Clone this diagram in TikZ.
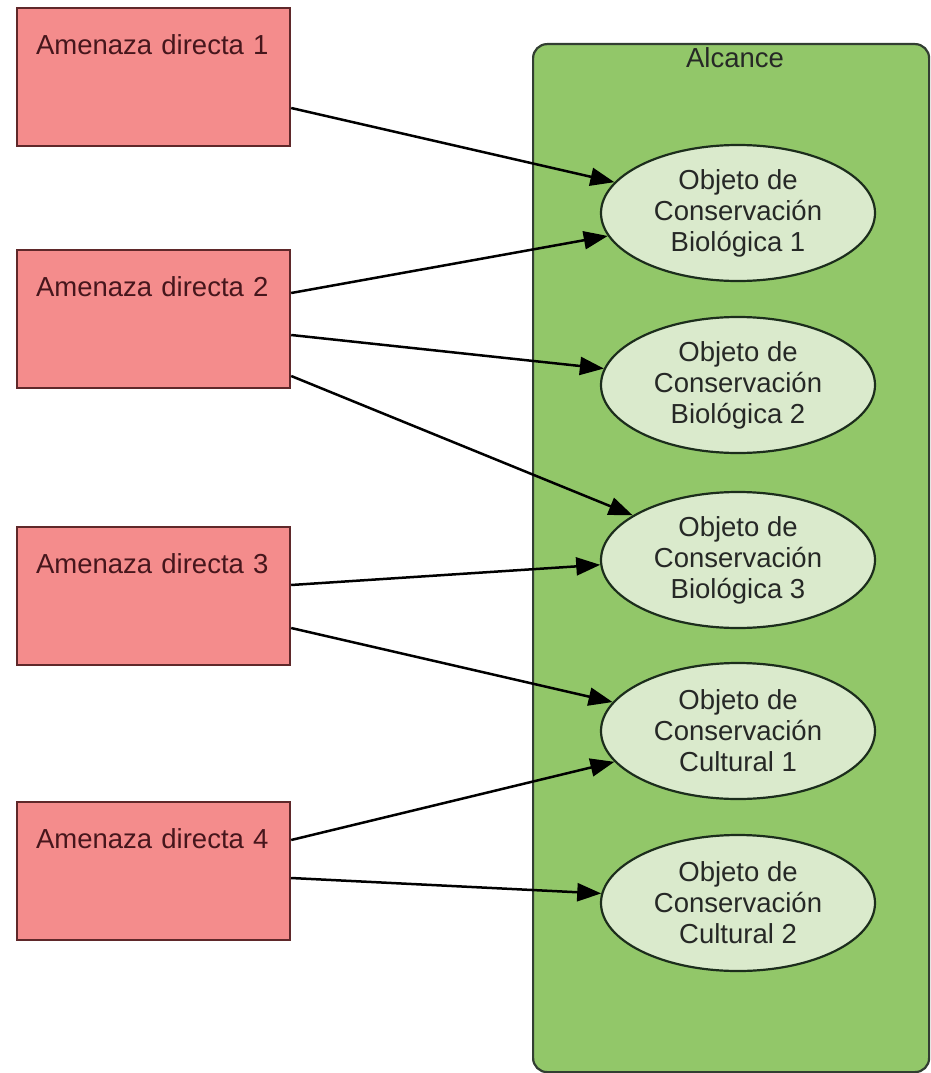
\documentclass[tikz,border=0pt]{standalone}
\usepackage{fontspec}
\setmainfont{Liberation Sans}
\usetikzlibrary{arrows.meta,shapes.geometric}
\definecolor{redfill}{RGB}{244,140,140}
\definecolor{redborder}{RGB}{95,40,42}
\definecolor{redtext}{RGB}{70,22,28}
\definecolor{greenfill}{RGB}{146,199,105}
\definecolor{greenborder}{RGB}{50,62,50}
\definecolor{ellfill}{RGB}{218,234,204}
\definecolor{ellborder}{RGB}{28,45,28}
\definecolor{elltext}{RGB}{38,40,38}
\tikzset{
  threat/.style={draw=redborder, fill=redfill, line width=2.2pt, rectangle,
    anchor=north west, inner xsep=19pt, inner ysep=0pt, text width=235pt,
    align=left, text height=46pt, text depth=92pt, text=redtext,
    font=\fontsize{27.5}{31}\selectfont},
  container/.style={draw=greenborder, fill=greenfill, line width=2.2pt,
    rounded corners=14pt, rectangle, anchor=north west, inner sep=0pt,
    minimum width=396pt, minimum height=1028pt},
  title/.style={text=elltext, font=\fontsize{27.5}{31}\selectfont, inner sep=0pt},
  obj/.style={ellipse, draw=ellborder, fill=ellfill, line width=2.2pt,
    minimum width=274pt, minimum height=136pt, inner sep=0pt, align=center,
    text=elltext, font=\fontsize{27.5}{31}\selectfont},
  link/.style={draw=black, line width=2.5pt, -{Triangle[length=24pt,width=18pt]}},
}
\begin{document}
\begin{tikzpicture}[x=1pt,y=-1pt]
\useasboundingbox (0,0) rectangle (930,1073);
% container
\node[container] (alc) at (532,43) {};
\node[title] (alct) at (735,58) {Alcance};
% threats
\node[threat] (a1) at (16,7) {Amenaza directa 1};
\node[threat] (a2) at (16,249) {Amenaza directa 2};
\node[threat] (a3) at (16,526) {Amenaza directa 3};
\node[threat] (a4) at (16,801) {Amenaza directa 4};
% objects
\node[obj] (e1) at (738,213) {Objeto de\\Conservación\\Biológica 1};
\node[obj] (e2) at (738,385) {Objeto de\\Conservación\\Biológica 2};
\node[obj] (e3) at (738,560) {Objeto de\\Conservación\\Biológica 3};
\node[obj] (e4) at (738,731) {Objeto de\\Conservación\\Cultural 1};
\node[obj] (e5) at (738,903) {Objeto de\\Conservación\\Cultural 2};
% links
\draw[link] ([yshift=-101pt]a1.north east) -- (e1.166);
\draw[link] ([yshift=-44pt]a2.north east) -- (e1.190);
\draw[link] ([yshift=-86pt]a2.north east) -- (e2.173);
\draw[link] ([yshift=-127pt]a2.north east) -- (e3.157);
\draw[link] ([yshift=-59pt]a3.north east) -- (e3.182);
\draw[link] ([yshift=-102pt]a3.north east) -- (e4.167);
\draw[link] ([yshift=-39pt]a4.north east) -- (e4.194);
\draw[link] ([yshift=-77pt]a4.north east) -- (e5.176);
\end{tikzpicture}
\end{document}
